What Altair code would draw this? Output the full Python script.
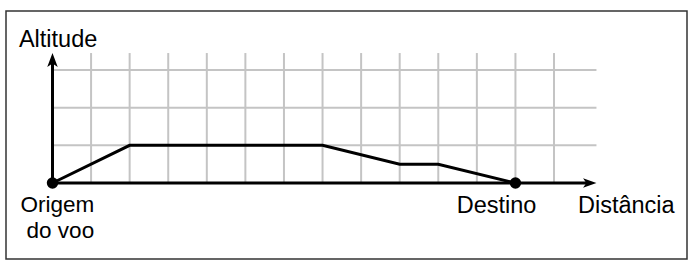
import altair as alt
import pandas as pd

# Flight profile (grid units)
profile_x = [0, 2, 7, 9, 10, 12]
profile_y = [0, 1, 1, 0.5, 0.5, 0]

grid_x = list(range(1, 14))
grid_y = [1, 2, 3]
grid_top = 3.45
grid_right = 14.1

endpoint_x = [0, 12]
endpoint_y = [0, 0]

# labels
left_labels = ["Altitude", "Distância"]
left_x = [-0.87, 13.62]
left_y = [3.62, -0.80]
center_labels = ["Destino"]
center_x = [11.51]
center_y = [-0.80]
right_labels = ["Origem", "do voo"]
right_x = [1.08, 1.08]
right_y = [-0.77, -1.45]

XDOM = [-1.205, 16.447]
YDOM = [-2.017, 4.566]
FONT = "Liberation Sans"

xs = alt.Scale(domain=XDOM, nice=False, zero=False)
ys = alt.Scale(domain=YDOM, nice=False, zero=False)

def X(f="x"):
    return alt.X(f"{f}:Q", scale=xs, axis=None)

def Y(f="y"):
    return alt.Y(f"{f}:Q", scale=ys, axis=None)

vgrid = alt.Chart(pd.DataFrame({"x": grid_x, "y": [0] * len(grid_x), "y2": [grid_top] * len(grid_x)})).mark_rule(
    color="#c4c4c4", strokeWidth=2).encode(x=X(), y=Y(), y2="y2:Q")
hgrid = alt.Chart(pd.DataFrame({"y": grid_y, "x": [0] * len(grid_y), "x2": [grid_right] * len(grid_y)})).mark_rule(
    color="#c4c4c4", strokeWidth=2).encode(x=X(), x2="x2:Q", y=Y())

axes = alt.Chart(pd.DataFrame({"x": [0, 0], "x2": [grid_right - 0.2, 0], "y": [0, 0], "y2": [0, grid_top - 0.2]})).mark_rule(
    color="black", strokeWidth=3).encode(x=X(), x2="x2:Q", y=Y(), y2="y2:Q")

line = alt.Chart(pd.DataFrame({"x": profile_x, "y": profile_y, "o": list(range(len(profile_x)))})).mark_line(
    color="black", strokeWidth=3, strokeJoin="miter").encode(x=X(), y=Y(), order="o:Q")

arrow_up = alt.Chart(pd.DataFrame({"x": [0], "y": [grid_top]})).mark_point(
    shape="M0,0 L0.75,2 L0,1.5 L-0.75,2 Z", size=196, filled=True, color="black", opacity=1, strokeWidth=0
).encode(x=X(), y=Y())
arrow_right = alt.Chart(pd.DataFrame({"x": [grid_right], "y": [0]})).mark_point(
    shape="M0,0 L-2,-0.7 L-1.5,0 L-2,0.7 Z", size=180, filled=True, color="black", opacity=1, strokeWidth=0
).encode(x=X(), y=Y())

dots = alt.Chart(pd.DataFrame({"x": endpoint_x, "y": endpoint_y})).mark_circle(
    size=130, color="black", opacity=1).encode(x=X(), y=Y())

def texts(labels, x, y, align, size=23.5):
    return alt.Chart(pd.DataFrame({"t": labels, "x": x, "y": y})).mark_text(
        align=align, baseline="alphabetic", font=FONT, fontSize=size, color="black"
    ).encode(x=X(), y=Y(), text="t:N")

chart = alt.layer(
    vgrid, hgrid, axes, line, arrow_up, arrow_right, dots,
    texts(left_labels, left_x, left_y, "left"),
    texts(center_labels, center_x, center_y, "center"),
    texts(right_labels, right_x, right_y, "right", 22.5),
).properties(
    width=681, height=248,
    autosize=alt.AutoSizeParams(type="none"),
    padding={"left": 6, "top": 11, "right": 13, "bottom": 12},
    background="white",
).configure_view(stroke="#333333", strokeWidth=1.5)

chart.save("out.html", embed_options={"renderer": "svg", "actions": False})
